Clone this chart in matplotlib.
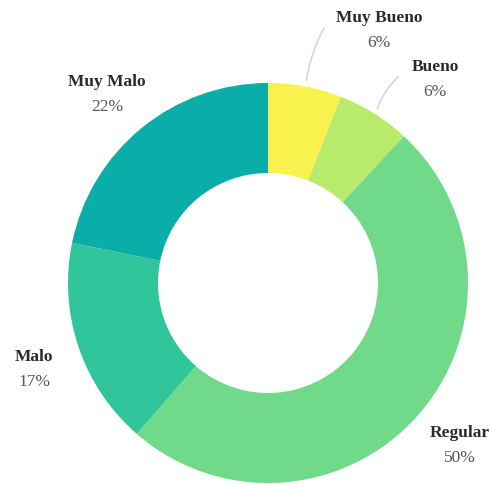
import matplotlib.pyplot as plt
import numpy as np

labels = ["Muy Bueno", "Bueno", "Regular", "Malo", "Muy Malo"]
values = [6, 6, 50, 17, 22]
colors = ["#f9f14e", "#b8eb6c", "#70da8a", "#30c59b", "#08aea7"]

# label positions in pixels (x, y from top)
label_pos = [(379, 18), (435, 67), (460, 433), (34, 357), (107, 82)]

W, H = 491, 485
cx, cy, r = 268, 284, 200

fig = plt.figure(figsize=(W / 100, H / 100), dpi=100)
ax = fig.add_axes([0, 0, 1, 1])

ax.pie(values, colors=colors, startangle=90, counterclock=False,
       center=(cx, H - cy), radius=r,
       wedgeprops=dict(width=r * 0.45, edgecolor="none"), frame=True)
ax.set_xlim(0, W)
ax.set_ylim(0, H)
ax.set_aspect("equal")
ax.axis("off")

for lab, v, (x, y) in zip(labels, values, label_pos):
    ax.text(x, H - y, lab, ha="center", va="center", fontsize=12.5,
            fontweight="bold", family="Liberation Serif", color="#2a2a2a")
    ax.text(x, H - y - 25, f"{v}%", ha="center", va="center", fontsize=12.5,
            family="Liberation Serif", color="#555555")

# leader lines for the two small slices
frac = np.cumsum([0] + values) / sum(values)
for i, end in [(0, (324, 29)), (1, (398, 78))]:
    mid = 90 - 360 * (frac[i] + frac[i + 1]) / 2
    a = np.radians(mid)
    x0, y0 = cx + (r + 6) * np.cos(a), H - cy + (r + 6) * np.sin(a)
    x1, y1 = end[0], H - end[1]
    t = np.linspace(0, 1, 30)
    mx, my = (x0 + x1) / 2 - 4, (y0 + y1) / 2 + 2
    xs = (1 - t) ** 2 * x0 + 2 * (1 - t) * t * mx + t ** 2 * x1
    ys = (1 - t) ** 2 * y0 + 2 * (1 - t) * t * my + t ** 2 * y1
    ax.plot(xs, ys, color="#d0d0d0", lw=1)

fig.savefig("out.png", dpi=100)
